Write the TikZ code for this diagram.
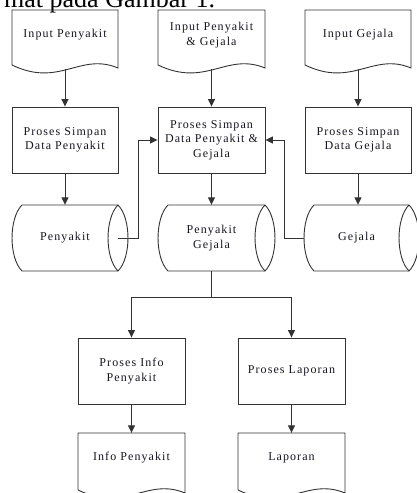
\documentclass[tikz,border=0pt]{standalone}
\usepackage{fontspec}
\setmainfont{Liberation Serif}
\newfontfamily\lblfamily{Liberation Serif}[LetterSpace=9]
\newfontfamily\capfamily{Liberation Serif}
\usetikzlibrary{arrows.meta,calc}
\definecolor{lc}{HTML}{333333}
\definecolor{tc}{HTML}{151520}
\newcommand\docpath[4]{% x0 x1 ytop yleft
  \draw[outl] (#1,#3) -- (#2,#3) -- (#2,{#4+3})
    .. controls ({#1+0.64*(#2-#1)},{#4-13}) and ({#1+0.45*(#2-#1)},{#4+23}) .. (#1,#4) -- cycle;}
\newcommand\cylpath[4]{% xl xr ytop ybot
  \draw[outl] (#1,#3) -- (#2,#3)
    .. controls ({#2+13.3},{#3+0.2*(#4-#3)}) and ({#2+13.3},{#4-0.2*(#4-#3)}) .. (#2,#4)
    -- (#1,#4)
    .. controls ({#1-13.3},{#4-0.2*(#4-#3)}) and ({#1-13.3},{#3+0.2*(#4-#3)}) .. (#1,#3);
  \draw[outl] (#2,#3)
    .. controls ({#2-13.3},{#3+0.2*(#4-#3)}) and ({#2-13.3},{#4-0.2*(#4-#3)}) .. (#2,#4);}
\begin{document}
\begin{tikzpicture}[x=1pt,y=-1pt,
  outl/.style={draw=lc,line width=0.9pt},
  lbl/.style={font=\lblfamily\fontsize{12}{14.5}\selectfont,align=center,text=tc,inner sep=0pt},
  proc/.style={lbl,outl,minimum width=106pt,minimum height=66pt},
  docbox/.style={lbl,minimum width=106pt,minimum height=50pt},
  cylbox/.style={lbl,minimum width=106pt,minimum height=66pt},
  arr/.style={draw=lc,line width=0.9pt,-{Triangle[length=7.5pt,width=7pt]}},
  conn/.style={draw=lc,line width=0.9pt}]
\useasboundingbox (0,0) rectangle (417,493);
\begin{scope}
\clip (0,0) rectangle (417,493);
% caption fragment
\node[anchor=base west,inner sep=0pt,font=\capfamily\fontsize{26}{30}\selectfont] (cap) at (4,7) {mat pada Gambar 1.};
% document outlines
\docpath{12}{118}{10}{65}
\docpath{158}{265}{10}{65}
\docpath{305}{411}{10}{65}
\docpath{78}{185}{433}{490}
\docpath{238}{345}{433}{490}
% cylinder outlines
\cylpath{22}{118}{205}{271}
\cylpath{168}{265}{205}{271}
\cylpath{314}{409}{205}{271}
% documents
\node[docbox] (ip) at (65,35) {Input Penyakit};
\node[docbox] (ipg) at (211.5,35) {Input Penyakit\\\& Gejala};
\node[docbox] (ig) at (358,35) {Input Gejala};
\coordinate (ipb) at (65,69.3);
\coordinate (ipgb) at (211.5,69.3);
\coordinate (igb) at (358,69.3);
% processes
\node[proc] (sp) at (65,140) {Proses Simpan\\Data Penyakit};
\node[proc,minimum width=107pt] (spg) at (211.5,140) {Proses Simpan\\Data Penyakit \&\\Gejala};
\node[proc] (sg) at (358,140) {Proses Simpan\\Data Gejala};
% cylinders
\node[cylbox] (cp) at (65,238) {Penyakit};
\node[cylbox,minimum width=107pt] (cpg) at (211.5,238) {Penyakit\\Gejala};
\node[cylbox,minimum width=105pt] (cg) at (356.5,238) {Gejala};
% bottom processes and documents
\node[proc,minimum width=107pt] (pi) at (131.5,371) {Proses Info\\Penyakit};
\node[proc,minimum width=107pt] (pl) at (291.5,371) {Proses Laporan};
\node[docbox,minimum width=107pt] (di) at (131.5,458) {Info Penyakit};
\node[docbox,minimum width=107pt] (dl) at (291.5,458) {Laporan};
% connectors
\draw[arr] (ipb) -- (sp.north);
\draw[arr] (ipgb) -- (spg.north);
\draw[arr] (igb) -- (sg.north);
\draw[arr] (sp.south) -- (cp.north);
\draw[arr] (spg.south) -- (cpg.north);
\draw[arr] (sg.south) -- (sg.south |- cg.north);
\draw[arr] (cp.east) -- ++(20,0) |- (spg.west);
\draw[arr] (cg.west) -- ++(-19,0) |- (spg.east);
\draw[conn] (cpg.south) -- ++(0,26) coordinate (split);
\draw[arr] (split) -| (pi.north);
\draw[arr] (split) -| (pl.north);
\draw[arr] (pi.south) -- (di.north);
\draw[arr] (pl.south) -- (dl.north);
\end{scope}
\end{tikzpicture}
\end{document}
